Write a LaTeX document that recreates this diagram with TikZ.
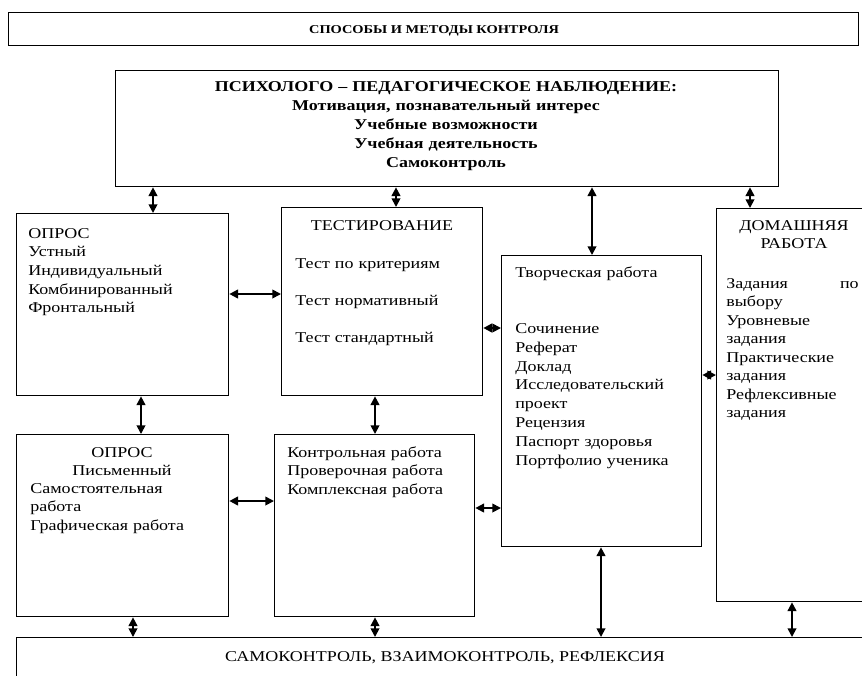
\documentclass[tikz,border=0pt]{standalone}
\usepackage{fontspec}
\setmainfont{Liberation Serif}[FakeStretch=1.2]
\usetikzlibrary{arrows.meta}
\tikzset{
  boxst/.style={draw, line width=1pt, inner sep=0pt, anchor=north west},
  dbl/.style={line width=1.3pt, {Triangle[length=6.5pt,width=6.5pt]}-{Triangle[length=6.5pt,width=6.5pt]}},
  txt/.style={inner sep=0pt, font=\fontsize{11.25}{14.06}\selectfont},
  lst/.style={txt, anchor=base west, align=left, text width=300pt},
  ctr/.style={txt, anchor=base, align=center, text width=200pt},
}
\newcommand\mybox[5]{\node[boxst, minimum width=#4*0.75pt, minimum height=#5*0.75pt] (#1) at (#2,#3) {};}
\begin{document}
\begin{tikzpicture}[x=0.75pt, y=-0.75pt]
\useasboundingbox (0,0) rectangle (862,675);
\fill[white] (0,0) rectangle (862,675);
\clip (0,0) rectangle (862,675);

% boxes
\mybox{title}{8}{12}{850}{33}
\mybox{top}{115}{70}{663}{116}
\mybox{opros1}{16}{213}{212}{182}
\mybox{test}{281}{207}{201}{188}
\mybox{tvorch}{501}{255}{200}{291}
\mybox{dom}{716}{208}{160}{393}
\mybox{opros2}{16}{434}{212}{182}
\mybox{kontr}{274}{434}{200}{182}
\mybox{bottom}{16}{637}{860}{60}

% texts
\node[txt, anchor=base, font=\fontsize{9}{11}\selectfont\bfseries] (titletxt) at (434,33) {СПОСОБЫ И МЕТОДЫ КОНТРОЛЯ};
\node[txt, anchor=base, align=center, text width=450pt, font=\fontsize{11.25}{14.25}\selectfont\bfseries] (toptxt) at (446,91)
  {ПСИХОЛОГО – ПЕДАГОГИЧЕСКОЕ НАБЛЮДЕНИЕ:\\Мотивация, познавательный интерес\\Учебные возможности\\Учебная деятельность\\Самоконтроль};

\node[lst] (opros1txt) at (28,238) {ОПРОС\\Устный\\Индивидуальный\\Комбинированный\\Фронтальный};

\node[ctr] (testhead) at (382,230) {ТЕСТИРОВАНИЕ};
\node[lst] (testtxt) at (295,268) {Тест по критериям\\[14.06pt]Тест нормативный\\[14.06pt]Тест стандартный};

\node[lst, font=\fontsize{11.25}{14.1}\selectfont] (tvorchtxt) at (515,277)
  {Творческая работа\\[28.2pt]Сочинение\\Реферат\\Доклад\\Исследовательский\\проект\\Рецензия\\Паспорт здоровья\\Портфолио ученика};

\node[ctr, text width=140pt, font=\fontsize{11.25}{13.5}\selectfont] (domhead) at (794,230) {ДОМАШНЯЯ\\РАБОТА};
\node[lst, font=\fontsize{11.25}{13.9}\selectfont] (domtxt) at (726,288)
  {Задания\\выбору\\Уровневые\\задания\\Практические\\задания\\Рефлексивные\\задания};
\node[txt, anchor=base east] (dompo) at (859,288) {по};

\node[ctr, font=\fontsize{11.25}{13.5}\selectfont] (opros2head) at (122,457) {ОПРОС\\Письменный};
\node[lst, font=\fontsize{11.25}{13.9}\selectfont] (opros2txt) at (30,493) {Самостоятельная\\работа\\Графическая работа};

\node[lst, font=\fontsize{11.25}{13.9}\selectfont] (kontrtxt) at (287,457) {Контрольная работа\\Проверочная работа\\Комплексная работа};

\node[txt, anchor=base] (bottomtxt) at (445,661) {САМОКОНТРОЛЬ, ВЗАИМОКОНТРОЛЬ, РЕФЛЕКСИЯ};

% connectors from top box
\draw[dbl] (153,0 |- top.south) -- (153,0 |- opros1.north);
\draw[dbl] (396,0 |- top.south) -- (396,0 |- test.north);
\draw[dbl] (592,0 |- top.south) -- (592,0 |- tvorch.north);
\draw[dbl] (750,0 |- top.south) -- (750,0 |- dom.north);

% horizontal connectors
\draw[dbl] (opros1.east |- 0,294) -- (test.west |- 0,294);
\draw[dbl] (test.east |- 0,328) -- (tvorch.west |- 0,328);
\draw[dbl] (tvorch.east |- 0,375) -- (dom.west |- 0,375);
\draw[dbl] (opros2.east |- 0,501) -- (kontr.west |- 0,501);
\draw[dbl] (kontr.east |- 0,508) -- (tvorch.west |- 0,508);

% vertical connectors
\draw[dbl] (141,0 |- opros1.south) -- (141,0 |- opros2.north);
\draw[dbl] (375,0 |- test.south) -- (375,0 |- kontr.north);
\draw[dbl] (133,0 |- opros2.south) -- (133,0 |- bottom.north);
\draw[dbl] (375,0 |- kontr.south) -- (375,0 |- bottom.north);
\draw[dbl] (601,0 |- tvorch.south) -- (601,0 |- bottom.north);
\draw[dbl] (792,0 |- dom.south) -- (792,0 |- bottom.north);
\end{tikzpicture}
\end{document}
